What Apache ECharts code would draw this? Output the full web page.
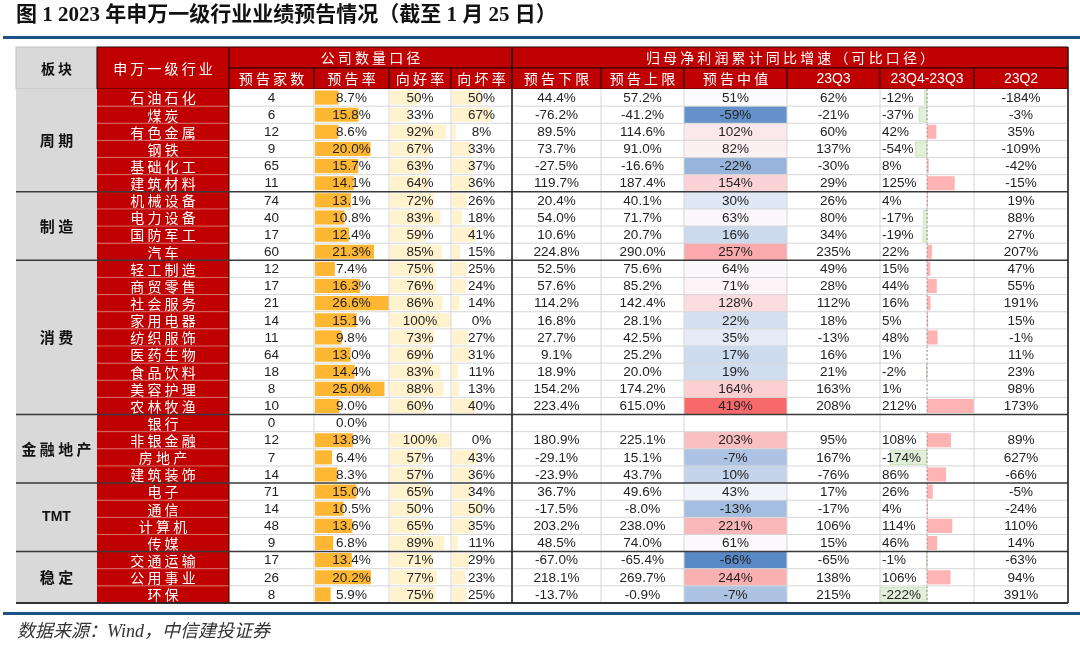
<!DOCTYPE html>
<html><head><meta charset="utf-8">
<script src="https://cdn.jsdelivr.net/npm/echarts@6/dist/echarts.min.js"></script>
<style>html,body{margin:0;padding:0;background:#fff}#c{width:1080px;height:649px}</style>
</head><body><div id="c"></div>
<script>
// ---------------- data ----------------
const titleText = '图 1 2023 年申万一级行业业绩预告情况（截至 1 月 25 日）';
const sourceText = '数据来源：Wind，中信建投证券';
const headSector = '板块';
const headIndustry = '申万一级行业';
const groupHeaders = ['公司数量口径', '归母净利润累计同比增速（可比口径）'];
const subHeaders = ['预告家数', '预告率', '向好率', '向坏率', '预告下限', '预告上限', '预告中值', '23Q3', '23Q4-23Q3', '23Q2'];
const sectors = ['周期', '制造', '消费', '金融地产', 'TMT', '稳定'];
const sectorCounts = [6, 4, 9, 4, 4, 3];
const industries = ['石油石化','煤炭','有色金属','钢铁','基础化工','建筑材料','机械设备','电力设备','国防军工','汽车','轻工制造','商贸零售','社会服务','家用电器','纺织服饰','医药生物','食品饮料','美容护理','农林牧渔','银行','非银金融','房地产','建筑装饰','电子','通信','计算机','传媒','交通运输','公用事业','环保'];
const counts = [4,6,12,9,65,11,74,40,17,60,12,17,21,14,11,64,18,8,10,0,12,7,14,71,14,48,9,17,26,8];
const forecastRate = [8.7,15.8,8.6,20.0,15.7,14.1,13.1,10.8,12.4,21.3,7.4,16.3,26.6,15.1,9.8,13.0,14.4,25.0,9.0,0.0,13.8,6.4,8.3,15.0,10.5,13.6,6.8,13.4,20.2,5.9];
const goodRate = [50,33,92,67,63,64,72,83,59,85,75,76,86,100,73,69,83,88,60,null,100,57,57,65,50,65,89,71,77,75];
const badRate = [50,67,8,33,37,36,26,18,41,15,25,24,14,0,27,31,11,13,40,null,0,43,36,34,50,35,11,29,23,25];
const lower = [44.4,-76.2,89.5,73.7,-27.5,119.7,20.4,54.0,10.6,224.8,52.5,57.6,114.2,16.8,27.7,9.1,18.9,154.2,223.4,null,180.9,-29.1,-23.9,36.7,-17.5,203.2,48.5,-67.0,218.1,-13.7];
const upper = [57.2,-41.2,114.6,91.0,-16.6,187.4,40.1,71.7,20.7,290.0,75.6,85.2,142.4,28.1,42.5,25.2,20.0,174.2,615.0,null,225.1,15.1,43.7,49.6,-8.0,238.0,74.0,-65.4,269.7,-0.9];
const median = [51,-59,102,82,-22,154,30,63,16,257,64,71,128,22,35,17,19,164,419,null,203,-7,10,43,-13,221,61,-66,244,-7];
const q3 = [62,-21,60,137,-30,29,26,80,34,235,49,28,112,18,-13,16,21,163,208,null,95,167,-76,17,-17,106,15,-65,138,215];
const q4q3 = [-12,-37,42,-54,8,125,4,-17,-19,22,15,44,16,5,48,1,-2,1,212,null,108,-174,86,26,4,114,46,-1,106,-222];
const q2 = [-184,-3,35,-109,-42,-15,19,88,27,207,47,55,191,15,-1,11,23,98,173,null,89,627,-66,-5,-24,110,14,-63,94,391];

// ---------------- layout / style ----------------
const edges = [16, 97, 229, 314, 389, 451, 512, 601, 684, 787, 880, 974, 1068];
const HT = 47, HM = 68, TOP = 89, BOT = 603;
const RED = '#c00000', GRAY = '#d9d9d9', DARK = '#3a3a3a', LIGHT = '#d6d6d6';
const NUMFONT = "'Liberation Sans', 'Noto Sans CJK SC', sans-serif";
const CJK = "'Noto Sans CJK SC', sans-serif";
const sp = s => /[\u4e00-\u9fff]/.test(s) ? s.split('').join(' ') : s;

const chart = echarts.init(document.getElementById('c'), null, {renderer: 'canvas'});

// heat colour scale (Excel 3-colour: min / 50th percentile / max)
const mv = median.filter(v => v != null).sort((a, b) => a - b);
const hMin = mv[0], hMax = mv[mv.length - 1], hMid = mv[Math.floor((mv.length - 1) / 2)];
const cLo = [90, 138, 198], cMid = [252, 252, 255], cHi = [248, 105, 107];
function mix(a, b, t) { return 'rgb(' + a.map((x, i) => Math.round(x + (b[i] - x) * t)).join(',') + ')'; }
function heat(v) { return v <= hMid ? mix(cLo, cMid, (v - hMin) / (hMid - hMin)) : mix(cMid, cHi, (v - hMid) / (hMax - hMid)); }
const dPos = Math.max(...q4q3.filter(v => v != null));
const dNeg = Math.abs(Math.min(...q4q3.filter(v => v != null)));

const pct1 = v => v.toFixed(1) + '%';
const pct0 = v => v + '%';
const colSpecs = [
  {data: counts, kind: 'text', min: 0, max: 1, fmt: v => String(v)},
  {data: forecastRate, kind: 'bar', min: 0, max: Math.max(...forecastRate), color: '#ffb733', fmt: pct1},
  {data: goodRate, kind: 'bar', min: 0, max: 100, color: '#fff2cc', fmt: pct0},
  {data: badRate, kind: 'bar', min: 0, max: 100, color: '#fff2cc', fmt: pct0, right: DARK},
  {data: lower, kind: 'text', min: 0, max: 1, fmt: pct1},
  {data: upper, kind: 'text', min: 0, max: 1, fmt: pct1},
  {data: median, kind: 'heat', min: 0, max: 1, fmt: pct0},
  {data: q3, kind: 'text', min: 0, max: 1, fmt: pct0},
  {data: q4q3, kind: 'diverge', min: -1, max: 1, fmt: pct0},
  {data: q2, kind: 'text', min: 0, max: 1, fmt: pct0, right: DARK}
];

const sectorEnd = new Set();
let acc = 0; sectorCounts.forEach(c => { acc += c; sectorEnd.add(acc - 1); });
const sectorStarts = []; acc = 0; sectorCounts.forEach(c => { sectorStarts.push(acc); acc += c; });
const rowData = industries.map((_, i) => [0, i]);

const grids = [], xAxes = [], yAxes = [], series = [];
function addGrid(l, r, xmin, xmax) {
  grids.push({left: l, width: r - l, top: TOP, height: BOT - TOP, containLabel: false, outerBoundsMode: 'none'});
  const gi = grids.length - 1;
  xAxes.push({gridIndex: gi, type: 'value', min: xmin, max: xmax, show: false});
  yAxes.push({gridIndex: gi, type: 'category', data: industries, inverse: true, show: false});
  return gi;
}

// frame grid (section separators across full table)
const gFrame = addGrid(edges[0], edges[12], 0, 1);
// sector column
const gSec = addGrid(edges[0], edges[1], 0, 1);
series.push({
  type: 'custom', xAxisIndex: gSec, yAxisIndex: gSec, encode: {x: 0, y: 1},
  data: sectorStarts.map(s => [0, s]),
  renderItem: (params, api) => {
    const s = api.value(1), n = sectorCounts[params.dataIndex];
    const h = api.size([0, 1])[1];
    const a = api.coord([0, s]), b = api.coord([1, s + n - 1]);
    const y0 = a[1] - h / 2, y1 = b[1] + h / 2;
    const name = sectors[params.dataIndex];
    const latin = !/[\u4e00-\u9fff]/.test(name);
    return {type: 'group', children: [
      {type: 'rect', shape: {x: a[0], y: y0, width: b[0] - a[0], height: y1 - y0}, style: {fill: GRAY}},
      {type: 'text', z2: 20, style: {text: sp(name), x: (a[0] + b[0]) / 2, y: (y0 + y1) / 2, align: 'center', verticalAlign: 'middle',
        font: 'bold ' + (latin ? '14px ' + NUMFONT : '15px ' + CJK), fill: '#111'}}
    ]};
  }
});
// industry column
const gInd = addGrid(edges[1], edges[2], 0, 1);
series.push({
  type: 'custom', xAxisIndex: gInd, yAxisIndex: gInd, encode: {x: 0, y: 1}, data: rowData,
  renderItem: (params, api) => {
    const r = api.value(1), h = api.size([0, 1])[1];
    const a = api.coord([0, r]), b = api.coord([1, r]);
    const y0 = a[1] - h / 2;
    const ch = [
      {type: 'rect', shape: {x: a[0], y: y0, width: b[0] - a[0], height: h}, style: {fill: RED}},
      {type: 'text', z2: 20, style: {text: sp(industries[r]), x: (a[0] + b[0]) / 2, y: a[1] + 0.5, align: 'center', verticalAlign: 'middle', font: '14px ' + CJK, fill: '#fff'}},
      {type: 'line', z2: 12, shape: {x1: b[0], y1: y0, x2: b[0], y2: y0 + h}, style: {stroke: '#2a0000', lineWidth: 1}}
    ];
    if (!sectorEnd.has(r)) ch.push({type: 'line', z2: 10, shape: {x1: a[0], y1: y0 + h, x2: b[0], y2: y0 + h}, style: {stroke: '#d86a6a', lineWidth: 1}});
    return {type: 'group', children: ch};
  }
});
// data columns
colSpecs.forEach((c, k) => {
  const gi = addGrid(edges[2 + k], edges[3 + k], c.min, c.max);
  series.push({
    type: 'custom', xAxisIndex: gi, yAxisIndex: gi, encode: {x: 0, y: 1}, data: rowData,
    renderItem: (params, api) => {
      const r = api.value(1), v = c.data[r], h = api.size([0, 1])[1];
      const a = api.coord([c.min, r]), b = api.coord([c.max, r]);
      const y0 = a[1] - h / 2, x0 = a[0], x1 = b[0];
      const ch = [];
      let bg = '#fff';
      if (c.kind === 'heat' && v != null) bg = heat(v);
      ch.push({type: 'rect', shape: {x: x0, y: y0, width: x1 - x0, height: h}, style: {fill: bg}});
      if (c.kind === 'bar' && v != null && v > 0) {
        const xe = api.coord([v, r])[0];
        ch.push({type: 'rect', z2: 5, shape: {x: x0 + 1, y: y0 + 1.5, width: xe - x0 - 1, height: h - 3}, style: {fill: c.color}});
      }
      let tx = (x0 + x1) / 2, al = 'center';
      if (c.kind === 'diverge' && v != null) {
        const xa = api.coord([0, r])[0];
        const nv = v >= 0 ? v / dPos : v / dNeg;
        const xe = api.coord([nv, r])[0];
        if (v !== 0) ch.push({type: 'rect', z2: 5, shape: {x: Math.min(xa, xe), y: y0 + 1.5, width: Math.abs(xe - xa), height: h - 3},
          style: v > 0 ? {fill: '#ffb3b3'} : {fill: '#e2efda', stroke: '#c5e0b4', lineWidth: 0.8}});
        ch.push({type: 'line', z2: 6, shape: {x1: xa, y1: y0, x2: xa, y2: y0 + h}, style: {stroke: '#8a8a8a', lineWidth: 1, lineDash: [2, 2]}});
        tx = x0 + 2; al = 'left';
      }
      if (v != null) ch.push({type: 'text', z2: 20, style: {text: c.fmt(v), x: tx, y: a[1] + 0.5, align: al, verticalAlign: 'middle', font: '13.5px ' + NUMFONT, fill: '#222'}});
      if (!sectorEnd.has(r)) ch.push({type: 'line', z2: 10, shape: {x1: x0, y1: y0 + h, x2: x1, y2: y0 + h}, style: {stroke: LIGHT, lineWidth: 1}});
      ch.push({type: 'line', z2: 12, shape: {x1: x1, y1: y0, x2: x1, y2: y0 + h}, style: {stroke: c.right || LIGHT, lineWidth: c.right ? 1.2 : 1}});
      return {type: 'group', children: ch};
    }
  });
});
// section separator lines
series.push({
  type: 'custom', xAxisIndex: gFrame, yAxisIndex: gFrame, encode: {x: 0, y: 1}, z: 10,
  data: sectorStarts.map((s, i) => [0, s + sectorCounts[i] - 1]),
  renderItem: (params, api) => {
    const r = api.value(1), h = api.size([0, 1])[1];
    const a = api.coord([0, r]), b = api.coord([1, r]);
    return {type: 'line', shape: {x1: a[0], y1: a[1] + h / 2, x2: b[0], y2: a[1] + h / 2}, style: {stroke: DARK, lineWidth: 1.5}};
  }
});

// header graphics
const g = [];
g.push({type: 'text', left: 16, top: 5, style: {text: titleText, font: "bold 21px 'Liberation Serif', 'Noto Sans CJK SC', serif", fill: '#111'}});
g.push({type: 'rect', shape: {x: 3, y: 36, width: 1077, height: 3}, style: {fill: '#1f5284'}});
g.push({type: 'rect', shape: {x: 3, y: 612, width: 1077, height: 3}, style: {fill: '#1f5284'}});
g.push({type: 'text', left: 17, top: 623, style: {text: sourceText, font: "italic 18px 'Liberation Serif', 'Noto Sans CJK SC', serif", fill: '#333'}});
function hcell(x0, x1, y0, y1, fill, text, color, font) {
  g.push({type: 'rect', shape: {x: x0, y: y0, width: x1 - x0, height: y1 - y0}, style: {fill: fill, stroke: fill === RED ? '#2a0000' : '#bfbfbf', lineWidth: 1}});
  g.push({type: 'text', x: (x0 + x1) / 2, y: (y0 + y1) / 2 + 0.5, style: {text: text, align: 'center', verticalAlign: 'middle', font: font, fill: color}});
}
hcell(edges[0], edges[1], HT, TOP, GRAY, sp(headSector), '#111', 'bold 14px ' + CJK);
hcell(edges[1], edges[2], HT, TOP, RED, sp(headIndustry), '#fff', '14px ' + CJK);
hcell(edges[2], edges[6], HT, HM, RED, sp(groupHeaders[0]), '#fff', '14px ' + CJK);
hcell(edges[6], edges[12], HT, HM, RED, sp(groupHeaders[1]), '#fff', '14px ' + CJK);
subHeaders.forEach((t, k) => {
  const latin = !/[\u4e00-\u9fff]/.test(t);
  hcell(edges[2 + k], edges[3 + k], HM, TOP, RED, sp(t), '#fff', latin ? '14px ' + NUMFONT : '14px ' + CJK);
});
g.push({type: 'line', shape: {x1: edges[0], y1: BOT, x2: edges[12], y2: BOT}, style: {stroke: '#222', lineWidth: 1.5}, z: 100});
g.push({type: 'line', shape: {x1: edges[12], y1: HT, x2: edges[12], y2: BOT}, style: {stroke: '#222', lineWidth: 1.2}, z: 100});
g.push({type: 'line', shape: {x1: edges[6], y1: HT, x2: edges[6], y2: BOT}, style: {stroke: '#222', lineWidth: 1.2}, z: 100});

chart.setOption({
  animation: false,
  backgroundColor: '#fff',
  grid: grids, xAxis: xAxes, yAxis: yAxes, series: series,
  graphic: g
});
</script></body></html>
